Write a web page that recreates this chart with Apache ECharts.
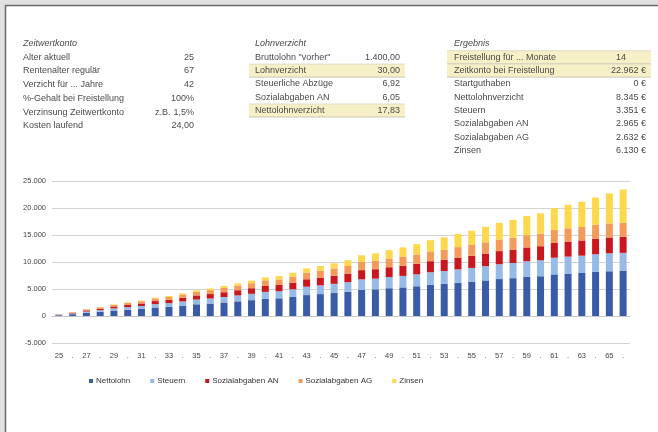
<!DOCTYPE html>
<html>
<head>
<meta charset="utf-8">
<script src="https://cdn.jsdelivr.net/npm/echarts@6/dist/echarts.min.js"></script>
<style>
  html, body { margin: 0; padding: 0; background: #ffffff; }
  #chart { width: 658px; height: 432px; }
</style>
</head>
<body>
<div id="chart"></div>
<script>
// Ages (years of salary conversion)
const ages = [25, 26, 27, 28, 29, 30, 31, 32, 33, 34, 35, 36, 37, 38, 39, 40, 41, 42, 43, 44, 45,
              46, 47, 48, 49, 50, 51, 52, 53, 54, 55, 56, 57, 58, 59, 60, 61, 62, 63, 64, 65, 66];

// Cumulative account balance components per age (EUR)
const nettolohn = [145, 333, 592, 778, 1009, 1166, 1323, 1575, 1703, 1925, 2169, 2314, 2507, 2719, 2932,
                   3188, 3275, 3526, 3874, 4052, 4250, 4473, 4840, 4936, 5144, 5299, 5506, 5782, 5936,
                   6158, 6351, 6588, 6844, 7004, 7231, 7361, 7704, 7849, 7970, 8163, 8283, 8345];
const steuern = [58, 134, 238, 312, 405, 469, 532, 632, 684, 773, 871, 929, 1007, 1092, 1178,
                 1280, 1315, 1416, 1556, 1628, 1707, 1796, 1944, 1983, 2066, 2128, 2212, 2322, 2384,
                 2474, 2551, 2646, 2749, 2813, 2904, 2957, 3094, 3153, 3201, 3279, 3327, 3351];
const sozialAN = [51, 118, 209, 275, 357, 413, 469, 557, 603, 681, 768, 819, 887, 963, 1038,
                  1129, 1159, 1248, 1371, 1435, 1505, 1583, 1713, 1748, 1821, 1876, 1949, 2047, 2102,
                  2180, 2249, 2332, 2423, 2480, 2560, 2606, 2727, 2779, 2822, 2890, 2933, 2965];
const sozialAG = [46, 105, 186, 245, 319, 367, 416, 496, 535, 606, 682, 728, 789, 856, 922,
                  1003, 1031, 1110, 1219, 1275, 1338, 1408, 1523, 1553, 1619, 1667, 1733, 1819, 1868,
                  1938, 1999, 2074, 2154, 2203, 2275, 2316, 2425, 2469, 2507, 2568, 2607, 2632];
const zinsen = [0, 10, 25, 40, 60, 85, 110, 140, 175, 215, 260, 310, 360, 420, 480,
                550, 620, 700, 780, 860, 950, 1090, 1230, 1380, 1550, 1730, 1900, 2080, 2260,
                2450, 2650, 2860, 3080, 3300, 3530, 3760, 4000, 4300, 4650, 5050, 5550, 6130];

const seriesNames = ['Nettolohn', 'Steuern', 'Sozialabgaben AN', 'Sozialabgaben AG', 'Zinsen'];
const seriesColors = ['#3a5ca6', '#97bbe6', '#c8171f', '#f29b5b', '#fdd84c'];

// Input / result tables
const zwkTitle = 'Zeitwertkonto';
const zwkLabels = ['Alter aktuell', 'Rentenalter regulär', 'Verzicht für ... Jahre',
                   '%-Gehalt bei Freistellung', 'Verzinsung Zeitwertkonto', 'Kosten laufend'];
const zwkValues = ['25', '67', '42', '100%', '1,5%', '24,00'];
const zwkNote = 'z.B.';

const lvTitle = 'Lohnverzicht';
const lvLabels = ['Bruttolohn "vorher"', 'Lohnverzicht', 'Steuerliche Abzüge', 'Sozialabgaben AN', 'Nettolohnverzicht'];
const lvValues = ['1.400,00', '30,00', '6,92', '6,05', '17,83'];
const lvMarked = [false, true, false, false, true];

const erTitle = 'Ergebnis';
const erLabels = ['Freistellung für ... Monate', 'Zeitkonto bei Freistellung', 'Startguthaben', 'Nettolohnverzicht',
                  'Steuern', 'Sozialabgaben AN', 'Sozialabgaben AG', 'Zinsen'];
const erValues = ['14', '22.962 €', '0 €', '8.345 €', '3.351 €', '2.965 €', '2.632 €', '6.130 €'];
const erMarked = [true, true, false, false, false, false, false, false];

const yTicks = { min: -5000, max: 25000, interval: 5000 };

function fmtDE(v) {
  const s = String(Math.abs(v)).replace(/\B(?=(\d{3})+(?!\d))/g, '.');
  return (v < 0 ? '-' : '') + s;
}

const FONT = '"Liberation Sans", Arial, sans-serif';
const TXT = '#4a4a4a';

function textEl(str, x, y, opts) {
  opts = opts || {};
  return {
    type: 'text', x: x, y: y, silent: true, z: 10,
    style: {
      text: str, fill: opts.fill || TXT,
      font: (opts.italic ? 'italic ' : '') + (opts.size || 9) + 'px ' + FONT,
      textAlign: opts.align || 'left', textVerticalAlign: 'middle'
    }
  };
}

const graphics = [];
// window frame
graphics.push({ type: 'rect', shape: { x: 0, y: 0, width: 658, height: 5 }, style: { fill: '#e2e2e2' }, silent: true });
graphics.push({ type: 'rect', shape: { x: 0, y: 0, width: 5, height: 432 }, style: { fill: '#e2e2e2' }, silent: true });
graphics.push({ type: 'line', shape: { x1: 5, y1: 5.5, x2: 658, y2: 5.5 }, style: { stroke: '#6a6a6a', lineWidth: 1.5 }, silent: true });
graphics.push({ type: 'line', shape: { x1: 5.5, y1: 5, x2: 5.5, y2: 432 }, style: { stroke: '#6a6a6a', lineWidth: 1.5 }, silent: true });

// table 1
graphics.push(textEl(zwkTitle, 23, 43.5, { italic: true }));
zwkLabels.forEach((l, i) => {
  const y = 57.3 + i * 13.7;
  graphics.push(textEl(l, 23, y));
  graphics.push(textEl(zwkValues[i], 194, y, { align: 'right' }));
});
graphics.push(textEl(zwkNote, 155, 57.3 + 4 * 13.7));

// highlighted table rows
function markRow(x, y, w) {
  graphics.push({ type: 'rect', shape: { x: x, y: y - 6.5, width: w, height: 13 }, style: { fill: '#f7f0c6' }, silent: true });
  graphics.push({ type: 'line', shape: { x1: x, y1: y + 6.5, x2: x + w, y2: y + 6.5 }, style: { stroke: '#c9c6b4', lineWidth: 1 }, silent: true });
  graphics.push({ type: 'line', shape: { x1: x, y1: y - 6.5, x2: x + w, y2: y - 6.5 }, style: { stroke: '#dedbc8', lineWidth: 1 }, silent: true });
}

// table 2
graphics.push(textEl(lvTitle, 255, 43.5, { italic: true }));
lvLabels.forEach((l, i) => {
  const y = 57.3 + i * 13.3;
  if (lvMarked[i]) markRow(249, y, 156);
  graphics.push(textEl(l, 255, y));
  graphics.push(textEl(lvValues[i], 400, y, { align: 'right' }));
});

// table 3
graphics.push(textEl(erTitle, 454, 43.5, { italic: true }));
erLabels.forEach((l, i) => {
  const y = 57.3 + i * 13.3;
  if (erMarked[i]) markRow(447, y, 204);
  graphics.push(textEl(l, 454, y));
  graphics.push(textEl(erValues[i], i === 0 ? 626 : 646, y, { align: 'right' }));
});

const chart = echarts.init(document.getElementById('chart'), null, { renderer: 'canvas' });

const seriesData = [nettolohn, steuern, sozialAN, sozialAG, zinsen];

chart.setOption({
  backgroundColor: '#ffffff',
  animation: false,
  color: seriesColors,
  grid: { left: 52, right: 28, top: 181, bottom: 89, containLabel: false },
  legend: {
    data: seriesNames,
    left: 84, top: 372,
    icon: 'rect', itemWidth: 4, itemHeight: 4, itemGap: 20,
    textStyle: { fontSize: 8, color: '#333', fontFamily: FONT, padding: [0, 0, 0, -2] }
  },
  xAxis: {
    type: 'category',
    data: ages,
    axisLine: { show: true, lineStyle: { color: '#c4c4c4', type: 'dashed', width: 1 } },
    axisTick: { show: false },
    axisLabel: {
      interval: 0, fontSize: 7.5, color: '#444', fontFamily: FONT, margin: 9,
      formatter: (v, idx) => (idx % 2 === 0 ? String(v) : '.')
    }
  },
  yAxis: {
    type: 'value',
    min: yTicks.min, max: yTicks.max, interval: yTicks.interval,
    axisLine: { show: false },
    axisTick: { show: false },
    axisLabel: { fontSize: 7.5, color: '#444', fontFamily: FONT, margin: 6, formatter: fmtDE },
    splitLine: { lineStyle: { color: '#d3d3d3', width: 1 } }
  },
  series: seriesNames.map((n, i) => ({
    name: n, type: 'bar', stack: 'konto', data: seriesData[i],
    barWidth: 7
  })),
  graphic: graphics
});
</script>
</body>
</html>
